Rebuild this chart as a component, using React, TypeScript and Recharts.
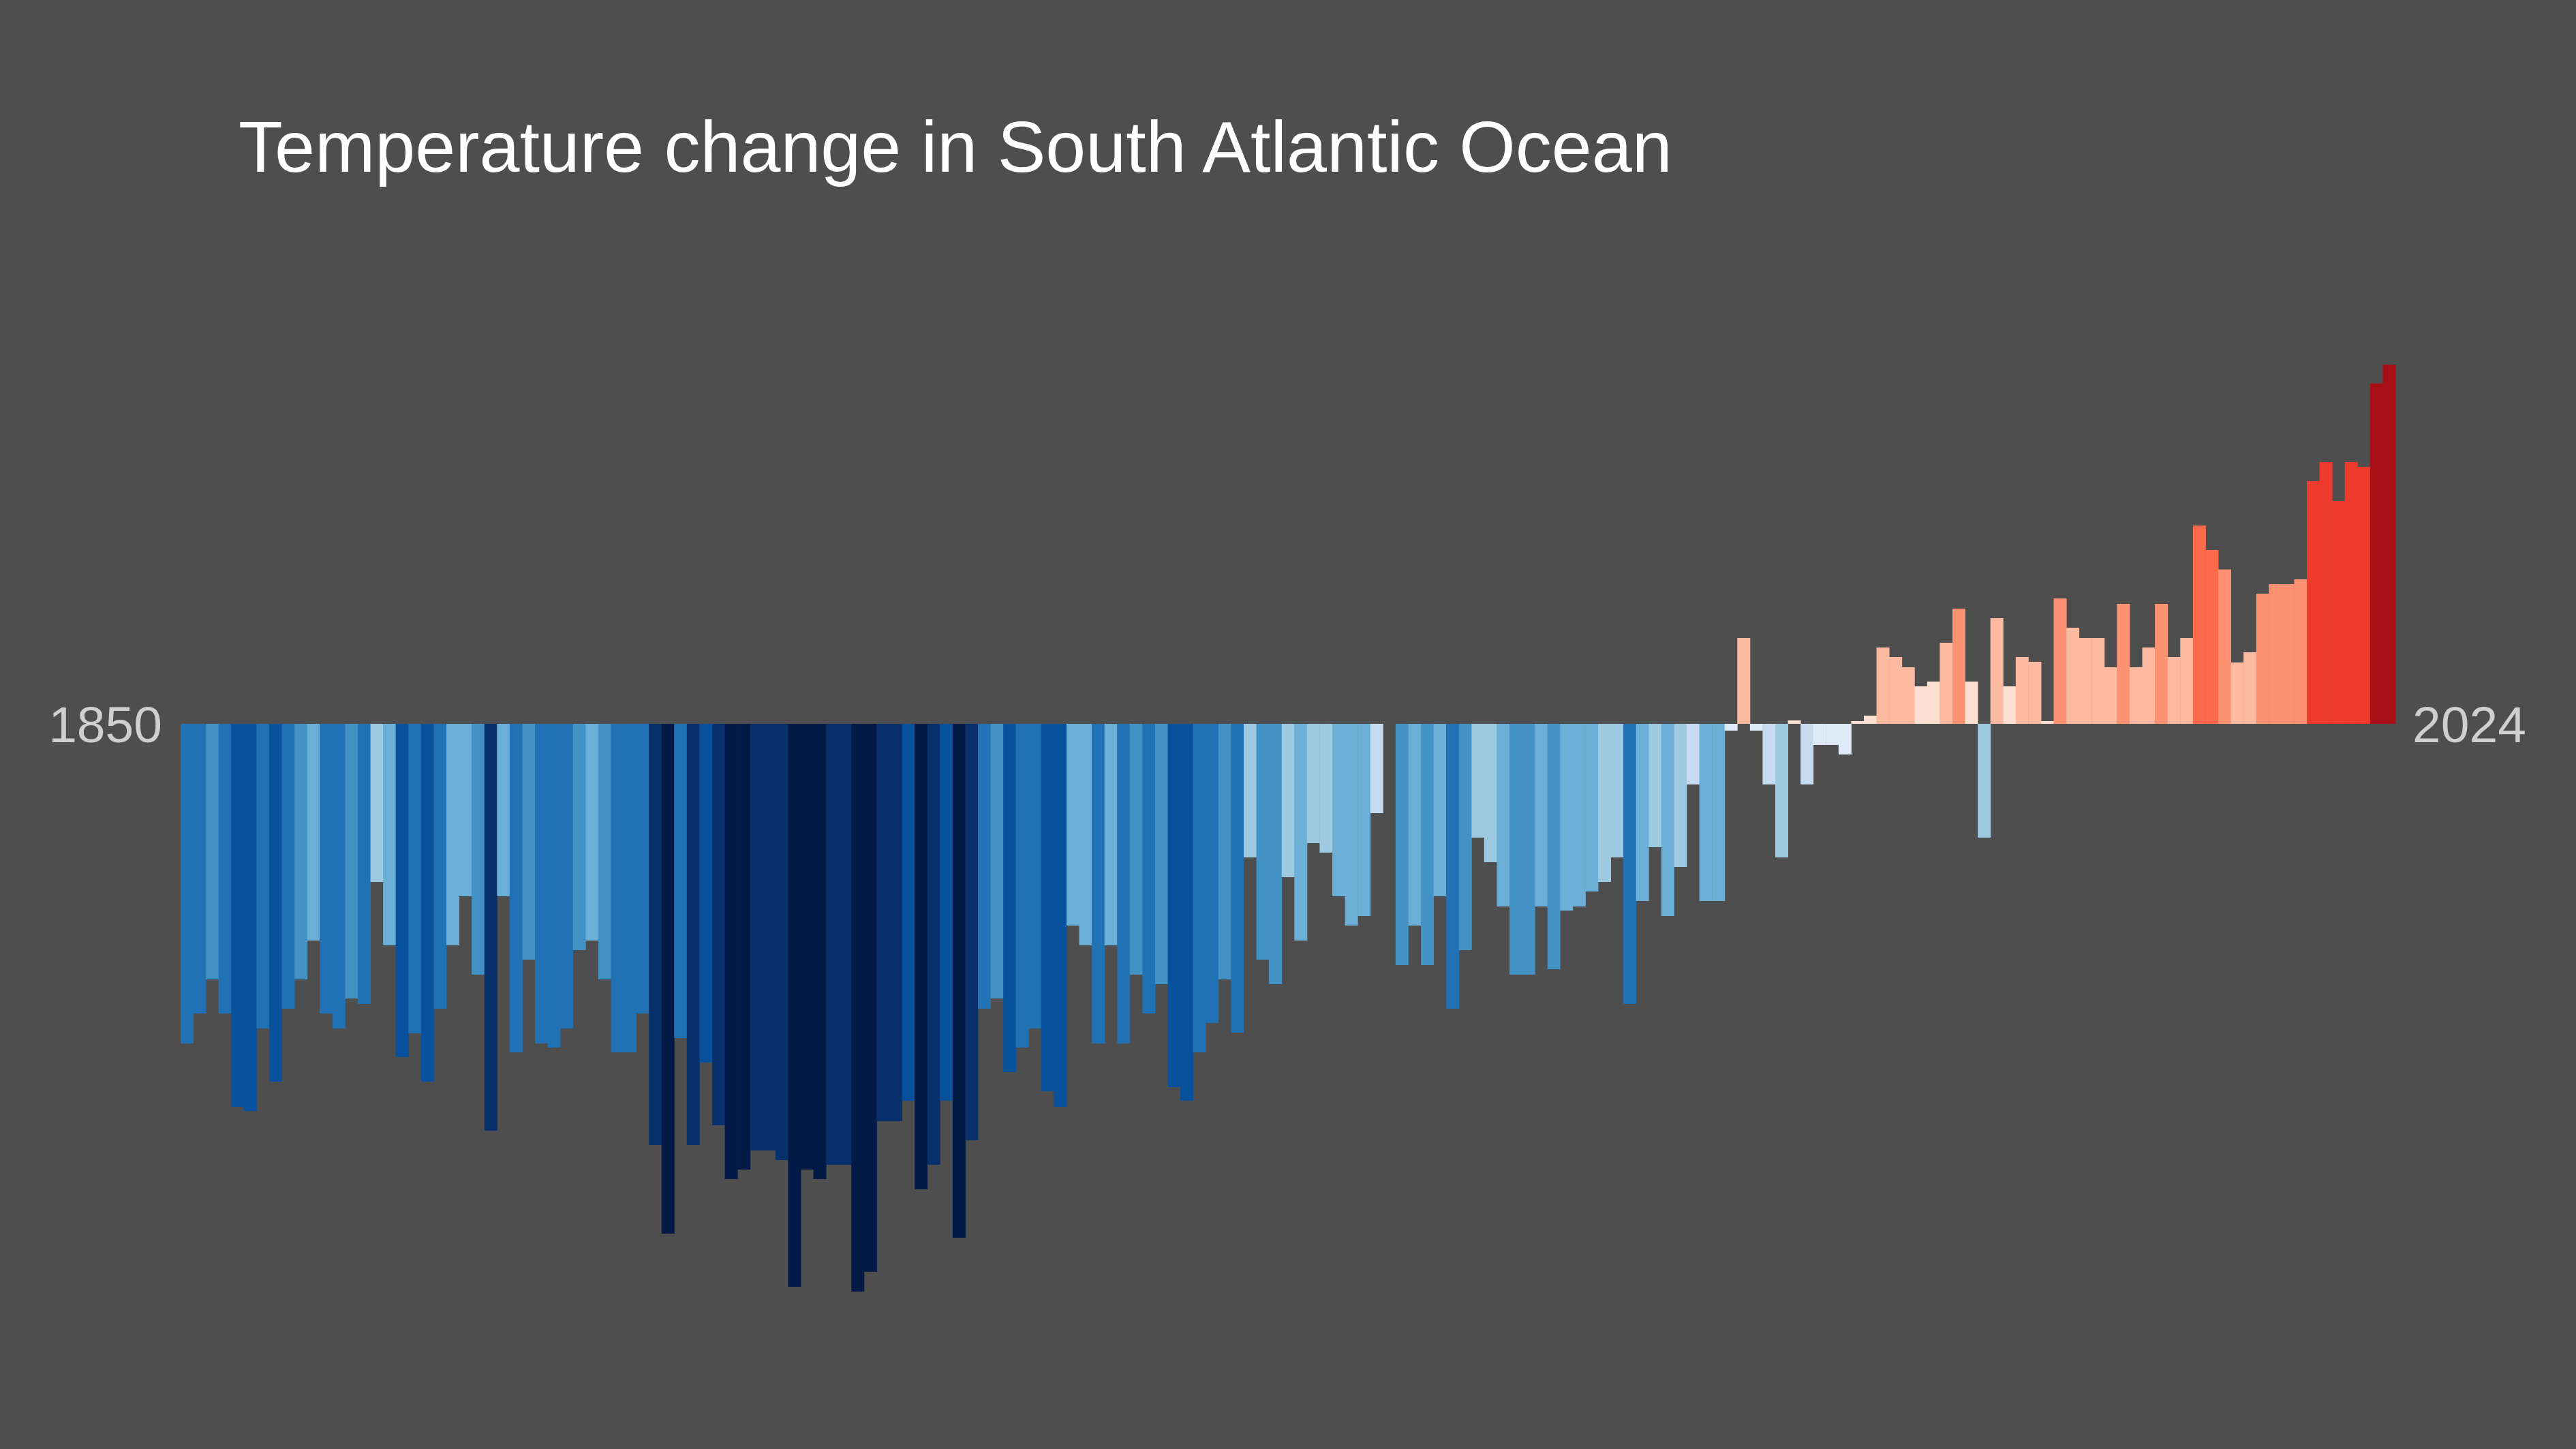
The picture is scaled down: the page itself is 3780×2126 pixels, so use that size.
import React from 'react';
import { BarChart, Bar, XAxis, YAxis, Cell } from 'recharts';

const FIRST_YEAR = 1850;

// Annual temperature anomaly (°C), 1850 … 2024
const anomalies: number[] = [
  -0.469, -0.425, -0.375, -0.425, -0.562, -0.568, -0.447, -0.525, -0.418, -0.375,
  -0.318, -0.425, -0.447, -0.403, -0.411, -0.232, -0.325, -0.489, -0.454, -0.525,
  -0.418, -0.325, -0.253, -0.368, -0.597, -0.253, -0.482, -0.346, -0.469, -0.475,
  -0.447, -0.332, -0.318, -0.375, -0.482, -0.482, -0.425, -0.618, -0.748, -0.461,
  -0.618, -0.497, -0.589, -0.668, -0.654, -0.626, -0.626, -0.640, -0.826, -0.654,
  -0.668, -0.647, -0.647, -0.833, -0.804, -0.583, -0.583, -0.553, -0.683, -0.647,
  -0.553, -0.754, -0.611, -0.418, -0.403, -0.511, -0.475, -0.447, -0.539, -0.562,
  -0.296, -0.325, -0.469, -0.325, -0.469, -0.368, -0.425, -0.382, -0.533, -0.553,
  -0.482, -0.439, -0.375, -0.453, -0.196, -0.346, -0.382, -0.225, -0.318, -0.175,
  -0.189, -0.253, -0.296, -0.282, -0.131, 0.0, -0.354, -0.296, -0.354, -0.253,
  -0.418, -0.332, -0.167, -0.203, -0.268, -0.368, -0.368, -0.268, -0.360, -0.274,
  -0.268, -0.246, -0.232, -0.196, -0.411, -0.260, -0.181, -0.282, -0.210, -0.089,
  -0.260, -0.260, -0.010, 0.126, -0.010, -0.089, -0.196, 0.005, -0.089, -0.031,
  -0.031, -0.045, 0.004, 0.012, 0.112, 0.098, 0.083, 0.055, 0.062, 0.119,
  0.169, 0.062, -0.167, 0.155, 0.055, 0.098, 0.091, 0.004, 0.184, 0.141,
  0.126, 0.126, 0.083, 0.176, 0.083, 0.112, 0.176, 0.098, 0.126, 0.291,
  0.255, 0.2265, 0.090, 0.105, 0.191, 0.205, 0.205, 0.212, 0.356, 0.384,
  0.327, 0.384, 0.377, 0.4995, 0.527,
];

const years: string[] = anomalies.map((_, i) => String(FIRST_YEAR + i));

const TITLE = 'Temperature change in South Atlantic Ocean';
const START_LABEL = years[0];
const END_LABEL = years[years.length - 1];

const coldColors = ['#deebf7', '#c6dbef', '#9ecae1', '#6baed6', '#4292c6', '#2171b5', '#08519c', '#08306b', '#021a45'];
const coldLimits = [0.06, 0.15, 0.24, 0.328, 0.407, 0.485, 0.575, 0.65];
const warmColors = ['#fee0d2', '#fcbba1', '#fc9272', '#fb6a4a', '#ef3b2c', '#cb181d', '#a50f15'];
const warmLimits = [0.072, 0.162, 0.24, 0.315, 0.405, 0.49];

function colorFor(v: number): string {
  if (v < 0) {
    const d = -v;
    const idx = coldLimits.filter((l) => d >= l).length;
    return coldColors[idx];
  }
  const idx = warmLimits.filter((l) => v >= l).length;
  return warmColors[idx];
}

const data = years.map((year, i) => ({ year, value: anomalies[i] }));

const W = 3780;
const H = 2126;
const BG = '#4e4e4e';
const FONT = '"Liberation Sans", Arial, Helvetica, sans-serif';

export default function App() {
  const minV = Math.min(...anomalies);
  const maxV = Math.max(...anomalies);
  return (
    <div style={{ position: 'absolute', left: 0, top: 0, width: W, height: H, background: BG, overflow: 'hidden' }}>
      <BarChart
        width={W}
        height={H}
        data={data}
        margin={{ top: 535, right: 265, bottom: 231, left: 265 }}
        barCategoryGap={0}
        barGap={0}
      >
        <XAxis dataKey="year" hide />
        <YAxis hide domain={[minV, maxV]} />
        <Bar dataKey="value" isAnimationActive={false}>
          {data.map((d) => (
            <Cell key={d.year} fill={colorFor(d.value)} />
          ))}
        </Bar>
      </BarChart>
      <svg width={W} height={H} style={{ position: 'absolute', left: 0, top: 0, pointerEvents: 'none' }}>
        <text x={350} y={252} fontSize={106} fill="#ffffff" fontFamily={FONT}>
          {TITLE}
        </text>
        <text x={238} y={1089} fontSize={75} fill="#cfcfcf" fontFamily={FONT} textAnchor="end">
          {START_LABEL}
        </text>
        <text x={3540} y={1089} fontSize={75} fill="#cfcfcf" fontFamily={FONT} textAnchor="start">
          {END_LABEL}
        </text>
      </svg>
    </div>
  );
}
